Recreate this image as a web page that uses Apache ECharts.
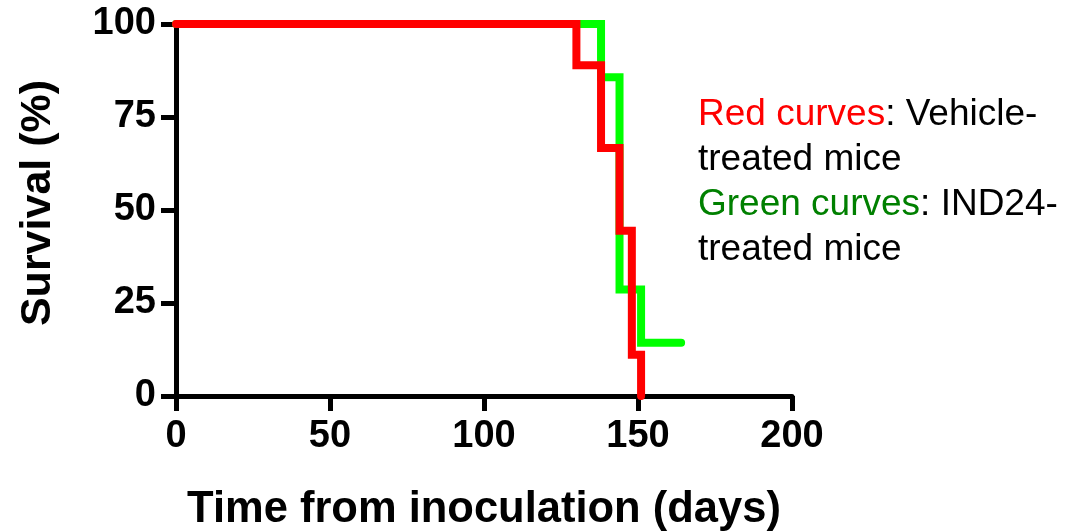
<!DOCTYPE html>
<html>
<head>
<meta charset="utf-8">
<script src="https://cdn.jsdelivr.net/npm/echarts@6/dist/echarts.min.js"></script>
<style>
html,body{margin:0;padding:0;background:#fff;}
#chart{width:1076px;height:531px;}
</style>
</head>
<body>
<div id="chart"></div>
<script>
// Data (Kaplan-Meier steps)
const redTimes = [0, 130, 138, 144, 148, 151];
const redSurvival = [100, 88.9, 66.7, 44.4, 11.1, 0];
const greenTimes = [0, 138, 144, 151, 164];
const greenSurvival = [100, 85.7, 28.6, 14.3, 14.3];
const xTicks = [0, 50, 100, 150, 200];
const yTicks = [0, 25, 50, 75, 100];
const xTitle = 'Time from inoculation (days)';
const yTitle = 'Survival (%)';

const pair = (xs, ys) => xs.map((x, i) => [x, ys[i]]);

const chart = echarts.init(document.getElementById('chart'), null, {renderer: 'canvas'});
const FONT = '"Liberation Sans", Arial, Helvetica, sans-serif';

chart.setOption({
  animation: false,
  backgroundColor: '#ffffff',
  grid: {left: 176, right: 284, top: 24, bottom: 135, containLabel: false, outerBoundsMode: 'none'},
  xAxis: {
    type: 'value', min: xTicks[0], max: xTicks[xTicks.length - 1], interval: 50,
    name: xTitle, nameLocation: 'middle', nameGap: 92,
    nameTextStyle: {fontFamily: FONT, fontWeight: 'bold', fontSize: 43.5, color: '#000'},
    axisLine: {show: true, lineStyle: {color: '#000', width: 5}},
    axisTick: {show: true, length: 15, inside: false, lineStyle: {color: '#000', width: 5}},
    axisLabel: {margin: 22, fontFamily: FONT, fontWeight: 'bold', fontSize: 38, color: '#000'},
    splitLine: {show: false}
  },
  yAxis: {
    type: 'value', min: yTicks[0], max: yTicks[yTicks.length - 1], interval: 25,
    name: yTitle, nameLocation: 'middle', nameGap: 116, nameRotate: 90,
    nameTextStyle: {fontFamily: FONT, fontWeight: 'bold', fontSize: 43, color: '#000', padding: [0, 0, 0, 14]},
    axisLine: {show: true, lineStyle: {color: '#000', width: 5}},
    axisTick: {show: true, length: 15, inside: false, lineStyle: {color: '#000', width: 5}},
    axisLabel: {margin: 20, fontFamily: FONT, fontWeight: 'bold', fontSize: 38, color: '#000'},
    splitLine: {show: false}
  },
  series: [
    {
      name: 'IND24', type: 'line', step: 'end', symbol: 'none', clip: false,
      data: pair(greenTimes, greenSurvival),
      lineStyle: {color: '#00ff00', width: 8, cap: 'round', join: 'miter'}
    },
    {
      name: 'Vehicle', type: 'line', step: 'end', symbol: 'none', clip: false,
      data: pair(redTimes, redSurvival),
      lineStyle: {color: '#ff0000', width: 8, cap: 'round', join: 'miter'}
    }
  ],
  graphic: [{
    type: 'text', left: 698, top: 92, silent: true,
    style: {
      text: '{r|Red curves}: Vehicle-\ntreated mice\n{g|Green curves}: IND24-\ntreated mice',
      font: '37px ' + FONT, fill: '#000', lineHeight: 45,
      rich: {
        r: {fill: '#ff0000', font: '37px ' + FONT, lineHeight: 45},
        g: {fill: '#008000', font: '37px ' + FONT, lineHeight: 45}
      }
    }
  }]
});
</script>
</body>
</html>
